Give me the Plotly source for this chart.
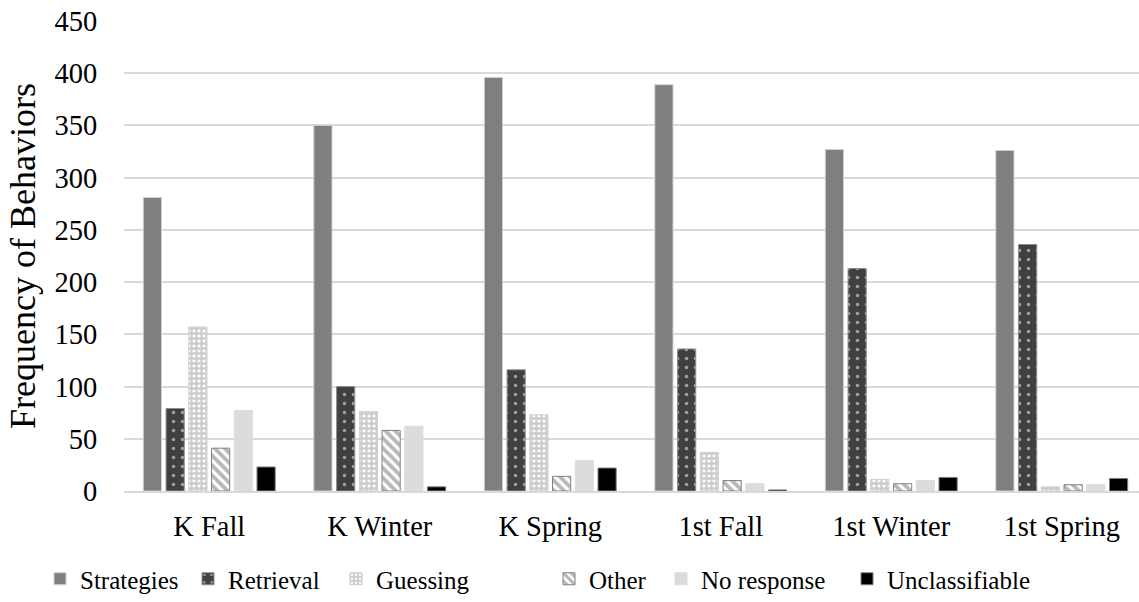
import plotly.graph_objects as go

categories = ["K Fall", "K Winter", "K Spring", "1st Fall", "1st Winter", "1st Spring"]
strategies = [281, 350, 396, 389, 327, 326]
retrieval = [79, 100, 116, 136, 213, 236]
guessing = [157, 76, 73, 37, 11, 4]
other = [41, 58, 14, 10, 7, 6]
no_response = [77, 62, 29, 7, 10, 6]
unclassifiable = [23, 4, 22, 1, 13, 12]

y_ticks = [0, 50, 100, 150, 200, 250, 300, 350, 400, 450]

FONT = "Liberation Serif, Times New Roman, serif"

fig = go.Figure()

fig.add_trace(go.Bar(
    name="Strategies", x=categories, y=strategies, legend="legend",
    marker=dict(color="#7f7f7f", line=dict(color="#d0d0d0", width=1)),
))
fig.add_trace(go.Bar(
    name="Retrieval", x=categories, y=retrieval, legend="legend2",
    marker=dict(color="#404040", line=dict(color="#8c8c8c", width=1),
                pattern=dict(shape=".", fillmode="overlay", bgcolor="#404040",
                             fgcolor="#ffffff", size=9, solidity=0.12)),
))
fig.add_trace(go.Bar(
    name="Guessing", x=categories, y=guessing, legend="legend3",
    marker=dict(color="#ffffff", line=dict(color="#d0d0d0", width=1),
                pattern=dict(shape="+", fillmode="overlay", bgcolor="#ffffff",
                             fgcolor="#999999", size=5, solidity=0.7)),
))
fig.add_trace(go.Bar(
    name="Other", x=categories, y=other, legend="legend4",
    marker=dict(color="#ffffff", line=dict(color="#808080", width=1),
                pattern=dict(shape="\\", fillmode="overlay", bgcolor="#ffffff",
                             fgcolor="#707070", size=7, solidity=0.55)),
))
fig.add_trace(go.Bar(
    name="No response", x=categories, y=no_response, legend="legend5",
    marker=dict(color="#dcdcdc", line=dict(color="#dcdcdc", width=1)),
))
fig.add_trace(go.Bar(
    name="Unclassifiable", x=categories, y=unclassifiable, legend="legend6",
    marker=dict(color="#000000", line=dict(color="#7f7f7f", width=1)),
))

plot_left = 124
plot_top = 21
plot_bottom = 492
plot_w = 1139 - plot_left
plot_h = plot_bottom - plot_top
cat_px = 170.5

legend_marker_px = [57, 205, 353, 566, 678, 864]
legend_y_px = 580


def legend_at(px):
    return dict(orientation="h",
                x=(px - 17 - plot_left) / plot_w, xanchor="left",
                y=(plot_bottom - legend_y_px) / plot_h, yanchor="middle",
                font=dict(family=FONT, size=25, color="black"),
                bgcolor="rgba(0,0,0,0)")


fig.update_layout(
    width=1139, height=602,
    margin=dict(l=plot_left, r=0, t=plot_top, b=602 - plot_bottom),
    paper_bgcolor="white", plot_bgcolor="white",
    barmode="group", bargap=0.2, bargroupgap=0.2,
    font=dict(family=FONT, color="black", size=24),
    showlegend=True,
    legend=legend_at(legend_marker_px[0]),
    legend2=legend_at(legend_marker_px[1]),
    legend3=legend_at(legend_marker_px[2]),
    legend4=legend_at(legend_marker_px[3]),
    legend5=legend_at(legend_marker_px[4]),
    legend6=legend_at(legend_marker_px[5]),
    xaxis=dict(
        range=[-0.5, -0.5 + plot_w / cat_px],
        showline=True, linecolor="#d9d9d9", linewidth=1.5,
        showgrid=False, ticks="outside", ticklen=9, tickcolor="rgba(0,0,0,0)",
        tickfont=dict(family=FONT, size=28.5, color="black"),
    ),
    yaxis=dict(
        range=[0, 450], tickvals=y_ticks,
        showgrid=True, gridcolor="#d9d9d9", gridwidth=1.5,
        zeroline=False, showline=False,
        ticks="outside", ticklen=20, tickcolor="rgba(0,0,0,0)",
        tickfont=dict(family=FONT, size=28.5, color="black"),
        title=dict(text="Frequency of Behaviors", standoff=7,
                   font=dict(family=FONT, size=36, color="black")),
    ),
)

fig.write_html("out.html",
               config={"displayModeBar": False},
               post_script="document.body.style.margin='0';document.body.style.padding='0';")
